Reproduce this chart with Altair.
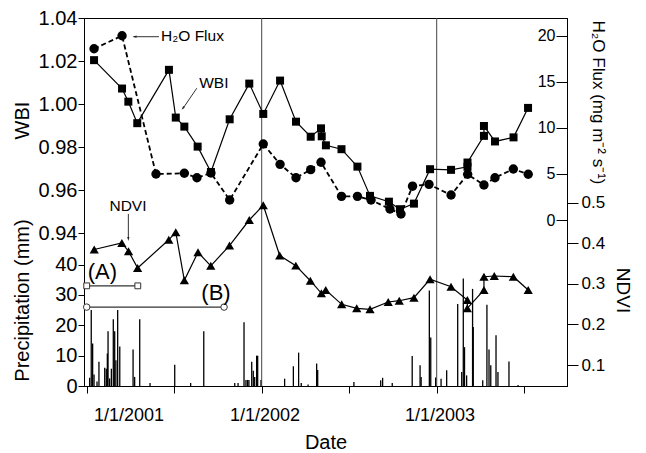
import altair as alt
import pandas as pd

# ---------------- data (decimal year, value) ----------------
wbi_year = [2001.042, 2001.202, 2001.238, 2001.289, 2001.470, 2001.509, 2001.558, 2001.634,
            2001.710, 2001.817, 2001.929, 2002.009, 2002.105, 2002.196, 2002.280, 2002.339,
            2002.343, 2002.367, 2002.456, 2002.547, 2002.619, 2002.727, 2002.790, 2002.870,
            2002.962, 2003.082, 2003.176, 2003.176, 2003.270, 2003.270, 2003.333, 2003.439,
            2003.522]
wbi_value = [1.0205, 1.0073, 1.0012, 0.9912, 1.0160, 0.9938, 0.9896, 0.9803,
             0.9685, 0.9930, 1.0096, 0.9955, 1.0110, 0.9919, 0.9849, 0.9888,
             0.9851, 0.9809, 0.9791, 0.9710, 0.9574, 0.9547, 0.9512, 0.9538,
             0.9698, 0.9695, 0.9709, 0.9729, 0.9853, 0.9899, 0.9827, 0.9846,
             0.9983]

flux_year = [2001.042, 2001.202, 2001.396, 2001.558, 2001.630, 2001.710, 2001.817, 2002.009,
             2002.105, 2002.196, 2002.280, 2002.339, 2002.456, 2002.547, 2002.625, 2002.733,
             2002.796, 2002.862, 2002.956, 2003.082, 2003.177, 2003.270, 2003.333, 2003.438,
             2003.523]
flux_value = [18.58, 19.99, 4.99, 5.07, 4.59, 5.10, 2.17, 8.24,
              6.04, 4.59, 5.46, 6.26, 2.57, 2.57, 2.17, 1.19,
              0.65, 3.67, 3.87, 2.71, 4.96, 3.80, 4.59, 5.53,
              4.96]

ndvi_year = [2001.043, 2001.201, 2001.239, 2001.291, 2001.469, 2001.509, 2001.558, 2001.636,
             2001.709, 2001.816, 2001.929, 2002.009, 2002.103, 2002.195, 2002.278, 2002.341,
             2002.366, 2002.457, 2002.543, 2002.619, 2002.723, 2002.786, 2002.870, 2002.962,
             2003.082, 2003.175, 2003.175, 2003.270, 2003.270, 2003.329, 2003.438, 2003.523]
ndvi_value = [0.3847, 0.4007, 0.3805, 0.3391, 0.4086, 0.4274, 0.3088, 0.3778,
              0.3445, 0.3943, 0.4574, 0.4939, 0.3699, 0.3450, 0.3078, 0.2768,
              0.2849, 0.2496, 0.2398, 0.2373, 0.2553, 0.2585, 0.2659, 0.3113,
              0.2930, 0.2602, 0.2398, 0.2849, 0.3177, 0.3194, 0.3177, 0.2849]

precip_year = [2001.017, 2001.026, 2001.034, 2001.042, 2001.059, 2001.070, 2001.103, 2001.112,
               2001.118, 2001.122, 2001.131, 2001.141, 2001.152, 2001.160, 2001.167, 2001.177,
               2001.189, 2001.265, 2001.274, 2001.303, 2001.362, 2001.503, 2001.594, 2001.669,
               2001.846, 2001.865, 2001.899, 2001.910, 2001.919, 2001.927, 2001.943, 2001.952,
               2001.960, 2001.971, 2001.977, 2001.996, 2002.131, 2002.181, 2002.211, 2002.226,
               2002.265, 2002.314, 2002.320, 2002.527, 2002.680, 2002.691, 2002.746, 2002.860,
               2002.905, 2002.911, 2002.958, 2002.966, 2002.994, 2003.025, 2003.057, 2003.120,
               2003.143, 2003.152, 2003.159, 2003.171, 2003.205, 2003.209, 2003.263, 2003.287,
               2003.299, 2003.309, 2003.339, 2003.350, 2003.413, 2003.465]
precip_mm = [2.7, 25, 14, 3.8, 1.5, 8, 6, 5.7,
             10.7, 18, 2.5, 5.7, 22, 18, 8.5, 25,
             13, 12, 3, 22, 1, 7, 1, 18,
             1, 1, 21, 2, 2, 2, 8, 5,
             3, 10, 10, 2, 2.4, 6.5, 11, 1,
             0.5, 7.4, 5.3, 1.3, 1.9, 2.7, 1, 9.9,
             6.8, 3, 31.5, 16, 2.8, 2.4, 5.2, 27,
             4.6, 35.4, 12.8, 3.5, 32, 19.4, 1.9, 26.8,
             12, 6.8, 16.7, 4.6, 8.1, 0.3]

year_lines = [2002.0, 2003.0]
date_label_year = [2001.242, 2002.019, 2003.019]
date_labels = ["1/1/2001", "1/1/2002", "1/1/2003"]

# periods (A) and (B)
period_start = [2001.0, 2001.0]
period_end = [2001.292, 2001.785]
period_level = [33, 26]
period_label = ["(A)", "(B)"]
period_label_year = [2001.09, 2001.739]
period_label_level = [37.5, 30.5]

# annotations (placed on WBI scale)
ann_left_text = ["H\u2082O Flux", "WBI"]
ann_left_year = [2001.425, 2001.643]
ann_left_level = [1.0318, 1.0099]
ann_center_text = ["NDVI"]
ann_center_year = [2001.236]
ann_center_level = [0.9527]
arrow_x1 = [2001.413, 2001.629, 2001.238]
arrow_x2 = [2001.268, 2001.548, 2001.238]
arrow_y1 = [1.0314, 1.00745, 0.9490]
arrow_y2 = [1.0314, 0.99780, 0.9375]
arrow_tip_x = [2001.262, 2001.543, 2001.238]
arrow_tip_y = [1.0314, 0.9974, 0.9364]
arrow_angle = [270, 215, 180]

# ---------------- layout ----------------
W, H = 483, 368
X_DOMAIN = [2000.9846, 2003.7446]
WBI_DOMAIN = [0.8690, 1.0401]
PRECIP_DOMAIN = [0, 121.25]
FLUX_DOMAIN = [-18.0, 21.91]
NDVI_DOMAIN = [0.0483, 0.9553]
FONT = "Liberation Sans"

x_scale = alt.Scale(domain=X_DOMAIN, nice=False, zero=False)
x_axis = alt.Axis(values=[2001, 2001.5, 2002, 2002.5, 2003, 2003.5], labels=False,
                  tickSize=7, title="Date", titlePadding=39, titleFontSize=20)


def xenc(f="yr"):
    return alt.X(f"{f}:Q", scale=x_scale, axis=x_axis)


def ysc(dom):
    return alt.Scale(domain=dom, nice=False, zero=False)


# precipitation bars
pdf = pd.DataFrame({"yr": precip_year, "p": precip_mm, "zero": [0] * len(precip_mm)})
precip = alt.Chart(pdf).mark_rule(color="black", strokeWidth=1.3).encode(
    x=xenc(),
    y=alt.Y("p:Q", scale=ysc(PRECIP_DOMAIN),
            axis=alt.Axis(orient="left", values=[0, 10, 20, 30, 40], title="Precipitation (mm)",
                          titleX=-62, titleY=282, titleAngle=270, titleAlign="center",
                          titleBaseline="middle", tickSize=6, labelPadding=1,
                          labelFontSize=20, titleFontSize=20)),
    y2="zero:Q",
)

vlines = alt.Chart(pd.DataFrame({"yr": year_lines})).mark_rule(color="#444", strokeWidth=1).encode(
    x=xenc())

# WBI
wdf = pd.DataFrame({"yr": wbi_year, "v": wbi_value, "i": list(range(len(wbi_year)))})
wbi = alt.Chart(wdf).mark_line(
    color="black", strokeWidth=1.2,
    point=alt.OverlayMarkDef(shape="square", size=64, filled=True, color="black", opacity=1)
).encode(
    x=xenc(),
    y=alt.Y("v:Q", scale=ysc(WBI_DOMAIN),
            axis=alt.Axis(orient="left", values=[0.94, 0.96, 0.98, 1.00, 1.02, 1.04], format=".2f",
                          title="WBI", titleX=-62, titleY=102, titleAngle=270, titleAlign="center",
                          titleBaseline="middle", tickSize=6, labelPadding=1,
                          labelFontSize=20, titleFontSize=20)),
    order="i:Q",
)

# H2O flux
fdf = pd.DataFrame({"yr": flux_year, "f": flux_value, "i": list(range(len(flux_year)))})
flux = alt.Chart(fdf).mark_line(
    color="black", strokeWidth=1.8, strokeDash=[5, 3],
    point=alt.OverlayMarkDef(shape="circle", size=88, filled=True, color="black", opacity=1)
).encode(
    x=xenc(),
    y=alt.Y("f:Q", scale=ysc(FLUX_DOMAIN),
            axis=alt.Axis(orient="left", offset=-W, values=[0, 5, 10, 15, 20],
                          title="H\u2082O Flux (mg m\u207b\u00b2 s\u207b\u00b9)",
                          titleX=30, titleY=84, titleAngle=90, titleAlign="center",
                          titleBaseline="middle", tickSize=11, labelPadding=1,
                          labelFontSize=16, titleFontSize=17)),
    order="i:Q",
)

# NDVI
ndf = pd.DataFrame({"yr": ndvi_year, "n": ndvi_value, "i": list(range(len(ndvi_year)))})
ndvi = alt.Chart(ndf).mark_line(
    color="black", strokeWidth=1.2,
    point=alt.OverlayMarkDef(shape="triangle-up", size=85, filled=True, color="black", opacity=1)
).encode(
    x=xenc(),
    y=alt.Y("n:Q", scale=ysc(NDVI_DOMAIN),
            axis=alt.Axis(orient="right", values=[0.1, 0.2, 0.3, 0.4, 0.5], format=".1f",
                          title="NDVI", titleX=55, titleY=272, titleAngle=90, titleAlign="center",
                          titleBaseline="middle", tickSize=11, labelPadding=3,
                          labelFontSize=17, titleFontSize=19)),
    order="i:Q",
)

# date labels
dlab = alt.Chart(pd.DataFrame({"yr": date_label_year, "t": date_labels})).mark_text(
    fontSize=18, align="center", baseline="middle", font=FONT, color="black").encode(
    x=xenc(), y=alt.value(398), text="t:N")

# periods A/B
perdf = pd.DataFrame({"yr": period_start, "yr2": period_end, "lv": period_level})
per_rule = alt.Chart(perdf).mark_rule(color="#333", strokeWidth=1.4).encode(
    x=xenc(), x2="yr2:Q",
    y=alt.Y("lv:Q", scale=ysc(PRECIP_DOMAIN), axis=None))
sq_df = pd.DataFrame({"yr": [period_start[0], period_end[0]], "lv": [period_level[0]] * 2})
per_sq = alt.Chart(sq_df).mark_point(shape="square", size=34, filled=True, fill="white",
                                     stroke="#333", strokeWidth=1, opacity=1).encode(
    x=xenc(), y=alt.Y("lv:Q", scale=ysc(PRECIP_DOMAIN), axis=None))
ci_df = pd.DataFrame({"yr": [period_start[1], period_end[1]], "lv": [period_level[1]] * 2})
per_ci = alt.Chart(ci_df).mark_point(shape="circle", size=42, filled=True, fill="white",
                                     stroke="#333", strokeWidth=1, opacity=1).encode(
    x=xenc(), y=alt.Y("lv:Q", scale=ysc(PRECIP_DOMAIN), axis=None))
per_txt = alt.Chart(pd.DataFrame({"yr": period_label_year, "lv": period_label_level,
                                  "t": period_label})).mark_text(
    fontSize=22, align="center", baseline="middle", font=FONT, color="black").encode(
    x=xenc(), y=alt.Y("lv:Q", scale=ysc(PRECIP_DOMAIN), axis=None), text="t:N")

# annotations with arrows
ann_l = alt.Chart(pd.DataFrame({"yr": ann_left_year, "lv": ann_left_level, "t": ann_left_text})).mark_text(
    fontSize=15.5, align="left", baseline="middle", font=FONT, color="black").encode(
    x=xenc(), y=alt.Y("lv:Q", scale=ysc(WBI_DOMAIN), axis=None), text="t:N")
ann_c = alt.Chart(pd.DataFrame({"yr": ann_center_year, "lv": ann_center_level, "t": ann_center_text})).mark_text(
    fontSize=15.5, align="center", baseline="middle", font=FONT, color="black").encode(
    x=xenc(), y=alt.Y("lv:Q", scale=ysc(WBI_DOMAIN), axis=None), text="t:N")
arr = alt.Chart(pd.DataFrame({"yr": arrow_x1, "yr2": arrow_x2, "lv": arrow_y1, "lv2": arrow_y2})).mark_rule(
    color="#333", strokeWidth=1).encode(
    x=xenc(), x2="yr2:Q", y=alt.Y("lv:Q", scale=ysc(WBI_DOMAIN), axis=None), y2="lv2:Q")
heads = alt.Chart(pd.DataFrame({"yr": arrow_tip_x, "lv": arrow_tip_y, "a": arrow_angle})).mark_point(
    shape="M0,0L-0.55,2L0.55,2Z", size=16, filled=True, color="#222", opacity=1).encode(
    x=xenc(), y=alt.Y("lv:Q", scale=ysc(WBI_DOMAIN), axis=None),
    angle=alt.Angle("a:Q", scale=None))

chart = alt.layer(
    precip, vlines, per_rule, per_sq, per_ci, per_txt,
    ndvi, flux, wbi, ann_l, ann_c, arr, heads, dlab
).resolve_scale(y="independent").properties(
    width=W, height=H,
    autosize=alt.AutoSizeParams(type="none"),
    padding={"left": 76, "top": 10, "right": 71, "bottom": 66},
    background="white",
).configure(font=FONT).configure_view(
    stroke="black", strokeWidth=1
).configure_axis(
    grid=False, domainColor="black", tickColor="black", labelColor="black",
    titleColor="black", titleFontWeight="normal", labelFont=FONT, titleFont=FONT,
    domainWidth=1, tickWidth=1
)

chart.save("out.html", embed_options={"renderer": "svg", "actions": False})
